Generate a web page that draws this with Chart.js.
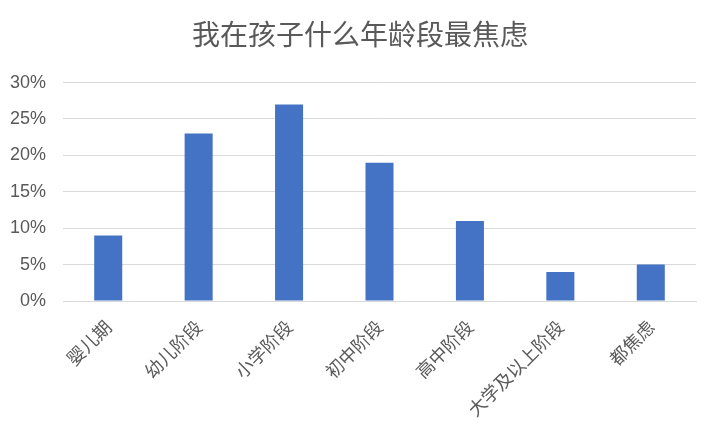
<!DOCTYPE html>
<html>
<head>
<meta charset="utf-8">
<script src="https://cdn.jsdelivr.net/npm/chart.js@4"></script>
<style>
  html, body { margin: 0; padding: 0; background: #fff; }
  #wrap { width: 720px; height: 428px; }
</style>
</head>
<body>
<div id="wrap"><canvas id="ageChart"></canvas></div>
<script>
// 数据
const titleText = '我在孩子什么年龄段最焦虑';
const stages = ['婴儿期', '幼儿阶段', '小学阶段', '初中阶段', '高中阶段', '大学及以上阶段', '都焦虑'];
const shares = [9, 23, 27, 19, 11, 4, 5]; // 百分比
const yTicks = [0, 5, 10, 15, 20, 25, 30];

const cjkFont = '"Noto Sans CJK SC", "Noto Sans", sans-serif';
const textGray = '#595959';

const ctx = document.getElementById('ageChart').getContext('2d');
const ageChart = new Chart(ctx, {
  type: 'bar',
  data: {
    labels: stages,
    datasets: [{
      data: shares,
      backgroundColor: '#4472C4',
      borderWidth: 0,
      categoryPercentage: 1,
      barPercentage: 0.31
    }]
  },
  options: {
    responsive: true,
    maintainAspectRatio: false,
    animation: false,
    layout: { padding: 0 },
    plugins: {
      legend: { display: false },
      tooltip: { enabled: false },
      title: {
        display: true,
        text: titleText,
        color: textGray,
        font: { family: cjkFont, size: 28, weight: 'normal' },
        padding: { top: 18, bottom: 31 }
      }
    },
    scales: {
      x: {
        grid: { display: false },
        border: { display: true, color: '#d9d9d9', width: 1 },
        ticks: {
          color: textGray,
          font: { family: cjkFont, size: 18 },
          minRotation: 45,
          maxRotation: 45,
          padding: 7
        },
        afterFit: (scale) => { scale.height = 127; }
      },
      y: {
        min: 0,
        max: 30,
        afterBuildTicks: (scale) => { scale.ticks = yTicks.map(v => ({ value: v })); },
        grid: { color: '#d9d9d9', lineWidth: 1, drawTicks: false },
        border: { display: false },
        ticks: {
          color: textGray,
          font: { family: '"Liberation Sans", Arial, sans-serif', size: 18 },
          padding: 17,
          callback: (v) => v + '%'
        },
        afterFit: (scale) => { scale.width = 63; }
      },
      // 右侧留白，让标题仍居中
      yRight: {
        position: 'right',
        display: true,
        grid: { display: false },
        border: { display: false },
        ticks: { display: false },
        afterFit: (scale) => { scale.width = 24; }
      }
    }
  }
});
</script>
</body>
</html>
